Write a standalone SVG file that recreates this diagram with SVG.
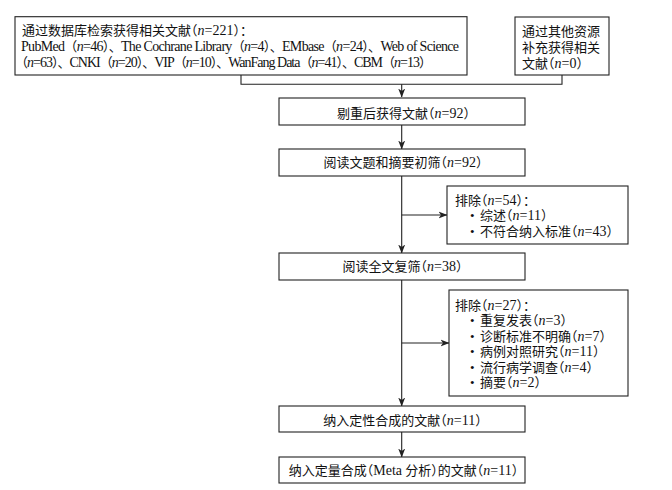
<svg xmlns="http://www.w3.org/2000/svg" width="672" height="490" viewBox="0 0 672 490">
<style>
.box{fill:#fff;stroke:#222;stroke-width:1.1}
.t{font-family:"Liberation Serif","Noto Sans CJK SC",serif;font-size:13px;fill:#111;font-feature-settings:"halt"}
.fw{font-feature-settings:normal}
.c{text-anchor:middle}
.L{font-size:14px}
.i{font-style:italic}
.ln{fill:none;stroke:#222;stroke-width:1.1}
</style>
<defs>
<marker id="ah" viewBox="0 0 9 8" refX="8.5" refY="4" markerWidth="9" markerHeight="8" markerUnits="userSpaceOnUse" orient="auto">
<path d="M0,0.5 L9,4 L0,7.5 L2.5,4 z" fill="#222"/>
</marker>
</defs>
<rect width="672" height="490" fill="#fff"/>
<g id="connectors">
<path class="ln" d="M241,75 V84.3 H562 V75"/>
<path class="ln" d="M401.7,84.3 V97" marker-end="url(#ah)"/>
<path class="ln" d="M401.7,125 V149" marker-end="url(#ah)"/>
<path class="ln" d="M401.7,176 V253" marker-end="url(#ah)"/>
<path class="ln" d="M401.7,215 H447" marker-end="url(#ah)"/>
<path class="ln" d="M401.7,280 V406" marker-end="url(#ah)"/>
<path class="ln" d="M401.7,343 H449" marker-end="url(#ah)"/>
<path class="ln" d="M401.7,432 V457" marker-end="url(#ah)"/>
</g>
<g id="n_db">
<rect class="box" x="15" y="16.7" width="452" height="58.3"/>
<text class="t" x="22" y="35">通过数据库检索获得相关文献（<tspan class="L"><tspan class="i">n</tspan>=221</tspan>）：</text>
<text class="t fw" x="21" y="51" textLength="438" lengthAdjust="spacing"><tspan class="L">PubMed</tspan>（<tspan class="L"><tspan class="i">n</tspan>=46</tspan>）、<tspan class="L">The Cochrane Library</tspan>（<tspan class="L"><tspan class="i">n</tspan>=4</tspan>）、<tspan class="L">EMbase</tspan>（<tspan class="L"><tspan class="i">n</tspan>=24</tspan>）、<tspan class="L">Web of Science</tspan></text>
<text class="t fw" x="15" y="67" textLength="417" lengthAdjust="spacing">（<tspan class="L"><tspan class="i">n</tspan>=63</tspan>）、<tspan class="L">CNKI</tspan>（<tspan class="L"><tspan class="i">n</tspan>=20</tspan>）、<tspan class="L">VIP</tspan>（<tspan class="L"><tspan class="i">n</tspan>=10</tspan>）、<tspan class="L">WanFang Data</tspan>（<tspan class="L"><tspan class="i">n</tspan>=41</tspan>）、<tspan class="L">CBM</tspan>（<tspan class="L"><tspan class="i">n</tspan>=13</tspan>）</text>
</g>
<g id="n_other">
<rect class="box" x="515" y="17" width="94" height="58"/>
<text class="t" x="522" y="36">通过其他资源</text>
<text class="t" x="522" y="52">补充获得相关</text>
<text class="t" x="522" y="68">文献（<tspan class="L"><tspan class="i">n</tspan>=0</tspan>）</text>
</g>
<g id="n_dedup">
<rect class="box" x="279" y="98" width="246" height="27"/>
<text class="t c" x="403.5" y="117.5">剔重后获得文献（<tspan class="L"><tspan class="i">n</tspan>=92</tspan>）</text>
</g>
<g id="n_screen">
<rect class="box" x="279" y="149" width="246" height="27"/>
<text class="t c" x="403" y="167">阅读文题和摘要初筛（<tspan class="L"><tspan class="i">n</tspan>=92</tspan>）</text>
</g>
<g id="n_excl1">
<rect class="box" x="447" y="186" width="181" height="58"/>
<text class="t" x="455" y="204.5">排除（<tspan class="L"><tspan class="i">n</tspan>=54</tspan>）：</text>
<text class="t" x="470" y="220">•</text>
<text class="t" x="480" y="220">综述（<tspan class="L"><tspan class="i">n</tspan>=11</tspan>）</text>
<text class="t" x="470" y="236">•</text>
<text class="t" x="480" y="236">不符合纳入标准（<tspan class="L"><tspan class="i">n</tspan>=43</tspan>）</text>
</g>
<g id="n_full">
<rect class="box" x="279" y="253" width="246" height="27"/>
<text class="t c" x="402.5" y="271">阅读全文复筛（<tspan class="L"><tspan class="i">n</tspan>=38</tspan>）</text>
</g>
<g id="n_excl2">
<rect class="box" x="449" y="290" width="179" height="106"/>
<text class="t" x="455" y="309.5">排除（<tspan class="L"><tspan class="i">n</tspan>=27</tspan>）：</text>
<text class="t" x="470" y="325">•</text>
<text class="t" x="480" y="325">重复发表（<tspan class="L"><tspan class="i">n</tspan>=3</tspan>）</text>
<text class="t" x="470" y="340.5">•</text>
<text class="t" x="480" y="340.5">诊断标准不明确（<tspan class="L"><tspan class="i">n</tspan>=7</tspan>）</text>
<text class="t" x="470" y="356">•</text>
<text class="t" x="480" y="356">病例对照研究（<tspan class="L"><tspan class="i">n</tspan>=11</tspan>）</text>
<text class="t" x="470" y="371.5">•</text>
<text class="t" x="480" y="371.5">流行病学调查（<tspan class="L"><tspan class="i">n</tspan>=4</tspan>）</text>
<text class="t" x="470" y="387">•</text>
<text class="t" x="480" y="387">摘要（<tspan class="L"><tspan class="i">n</tspan>=2</tspan>）</text>
</g>
<g id="n_qual">
<rect class="box" x="279" y="406" width="246" height="26"/>
<text class="t c" x="402.5" y="424.5">纳入定性合成的文献（<tspan class="L"><tspan class="i">n</tspan>=11</tspan>）</text>
</g>
<g id="n_quant">
<rect class="box" x="279" y="457" width="246" height="26"/>
<text class="t c" x="403.5" y="474.5">纳入定量合成（<tspan class="L">Meta</tspan> 分析）的文献（<tspan class="L"><tspan class="i">n</tspan>=11</tspan>）</text>
</g>
</svg>
